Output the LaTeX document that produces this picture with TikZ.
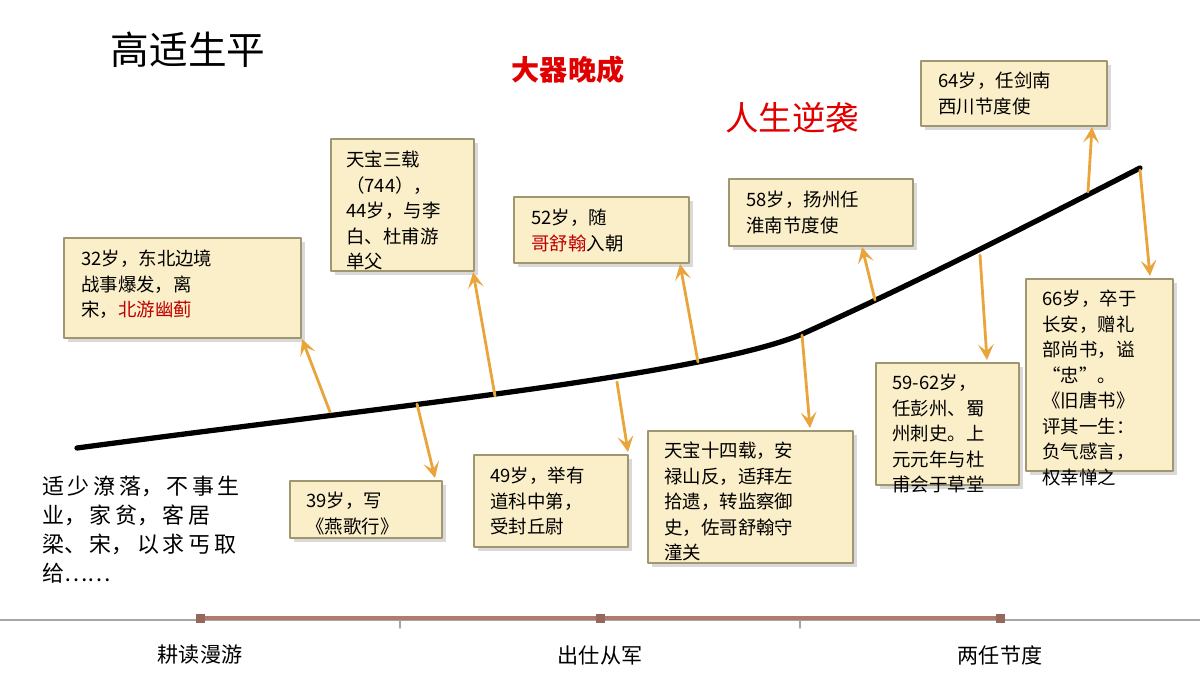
\documentclass[tikz,border=0pt]{standalone}
\usepackage{fontspec}
\setmainfont{Noto Sans CJK SC}
\usetikzlibrary{arrows.meta,shadows}
\definecolor{boxfill}{HTML}{FBEFC9}
\definecolor{boxline}{HTML}{A09670}
\definecolor{arroworange}{HTML}{E9A53C}
\definecolor{titlered}{HTML}{E00000}
\definecolor{barbrown}{HTML}{B07A6E}
\tikzset{
  evbox/.style={draw=boxline,line width=1.2pt,fill=boxfill,anchor=north west,align=left,
    inner sep=0pt,drop shadow={opacity=0.3,shadow xshift=2pt,shadow yshift=-2pt}},
  evtext/.style={anchor=north west,align=left,font=\fontsize{10.5}{14.5}\selectfont},
  evarrow/.style={draw=arroworange,line width=1.6pt,-{Stealth[length=9pt,width=9pt,inset=4pt]}},
}
\begin{document}
\begin{tikzpicture}[x=0.02cm,y=-0.02cm,line cap=round,line join=round]
\useasboundingbox (0,0) rectangle (1200,675);
% titles
\node (title) at (188,50) {\fontsize{22}{26}\selectfont 高适生平};
\node (late) at (568,70) {\fontsize{16}{20}\selectfont\bfseries\color{titlered}大器晚成};
\node (turn) at (792,118) {\fontsize{19}{22}\selectfont\color{titlered}人生逆袭};
% life curve
\draw[line width=3pt] (77,448) .. controls (400,405) and (700,375) .. (800,335)
  .. controls (900,290) and (1000,240) .. (1140,168);
\coordinate (cA) at (330,412);
\coordinate (cF) at (417,404);
\coordinate (cB) at (495,396);
\coordinate (cG) at (617,382);
\coordinate (cC) at (698,362);
\coordinate (cH) at (802,335);
\coordinate (cD) at (875,300);
\coordinate (cI) at (980,255);
\coordinate (cE) at (1088,192);
\coordinate (cJ) at (1140,170);
% event boxes
\node[evbox,minimum width=237*0.02cm,minimum height=100*0.02cm] (bA) at (63,237) {};
\node[evtext] at (75,244) {32岁，东北边境\\战事爆发，离\\宋，\textcolor{titlered!85!black}{北游幽蓟}};
\node[evbox,minimum width=143*0.02cm,minimum height=132*0.02cm] (bB) at (330,138) {};
\node[evtext] at (340,145) {天宝三载\\（744），\\44岁，与李\\白、杜甫游\\单父};
\node[evbox,minimum width=175*0.02cm,minimum height=66*0.02cm] (bC) at (513,196) {};
\node[evtext] at (525,203) {52岁，随\\\textcolor{titlered!85!black}{哥舒翰}入朝};
\node[evbox,minimum width=184*0.02cm,minimum height=67*0.02cm] (bD) at (728,178) {};
\node[evtext] at (740,185) {58岁，扬州任\\淮南节度使};
\node[evbox,minimum width=186*0.02cm,minimum height=65*0.02cm] (bE) at (920,60) {};
\node[evtext] at (932,66) {64岁，任剑南\\西川节度使};
\node[evbox,minimum width=152*0.02cm,minimum height=57*0.02cm] (bF) at (289,480) {};
\node[evtext] at (300,486) {39岁，写\\《燕歌行》};
\node[evbox,minimum width=154*0.02cm,minimum height=92*0.02cm] (bG) at (473,454) {};
\node[evtext] at (484,461) {49岁，举有\\道科中第，\\受封丘尉};
\node[evbox,minimum width=205*0.02cm,minimum height=132*0.02cm] (bH) at (647,430) {};
\node[evtext] at (658,436) {天宝十四载，安\\禄山反，适拜左\\拾遗，转监察御\\史，佐哥舒翰守\\潼关};
\node[evbox,minimum width=143*0.02cm,minimum height=122*0.02cm] (bI) at (875,362) {};
\node[evtext] at (886,368) {59-62岁，\\任彭州、蜀\\州刺史。上\\元元年与杜\\甫会于草堂};
\node[evbox,minimum width=147*0.02cm,minimum height=192*0.02cm] (bJ) at (1025,278) {};
\node[evtext] at (1036,284) {66岁，卒于\\长安，赠礼\\部尚书，谥\\“忠”。\\《旧唐书》\\评其一生：\\负气感言，\\权幸惮之};
% arrows
\draw[evarrow] (cA) -- (bA.south east);
\draw[evarrow] (cB) -- ([xshift=-2*0.02cm]bB.south east);
\draw[evarrow] (cF) -- (435,478);
\draw[evarrow] (cC) -- (680,264);
\draw[evarrow] (cG) -- (628,452);
\draw[evarrow] (cD) -- (862,247);
\draw[evarrow] (cH) -- (810,428);
\draw[evarrow] (cE) -- (1092,127);
\draw[evarrow] (cI) -- (987,360);
\draw[evarrow] (cJ) -- (1150,276);
% early life
\node[anchor=north west,align=left,font=\fontsize{12.5}{16.5}\selectfont] (early) at (36,470)
  {适\,少\,潦\,落，\,不\,事\,生\\业，\,家\,贫，\,客\,居\\梁、\,宋，\,以\,求\,丐\,取\\给……};
% timeline
\draw[gray!70,line width=0.8pt] (0,620) -- (1200,620);
\draw[gray!70,line width=0.8pt] (400,620) -- (400,628) (800,620) -- (800,628);
\draw[barbrown,line width=2.5pt] (200,618) -- (1000,618);
\foreach \px/\lbl [count=\i] in {200/耕读漫游,600/出仕从军,1000/两任节度}{
  \node[fill=barbrown!85!black,minimum size=9*0.02cm,inner sep=0pt] (mk\i) at (\px,618) {};
  \node[font=\fontsize{12}{14}\selectfont] (ph\i) at (\px,655) {\lbl};
}
\end{tikzpicture}
\end{document}
